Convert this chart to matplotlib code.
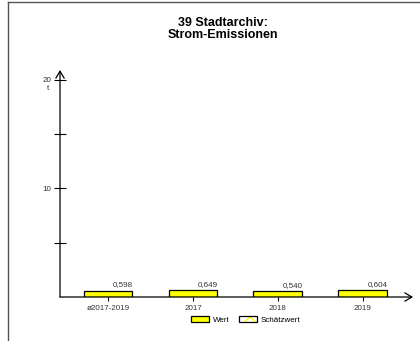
import matplotlib
matplotlib.use("Agg")
import matplotlib.pyplot as plt
from matplotlib.patches import Patch
from matplotlib.legend_handler import HandlerTuple
from matplotlib.lines import Line2D

plt.rcParams['font.family'] = ['Liberation Sans', 'DejaVu Sans']

categories = ["ø2017-2019", "2017", "2018", "2019"]
values = [0.598, 0.649, 0.540, 0.604]
value_labels = ["0,598", "0,649", "0,540", "0,604"]
y_ticks = [5, 10, 15, 20]
y_tick_labels = ["", "10", "", "20"]
title = "39 Stadtarchiv:\nStrom-Emissionen"
unit = "t"

YELLOW = "#ffff00"
FS = 5.8

fig = plt.figure(figsize=(4.2, 3.41), dpi=100)
ax = fig.add_axes([0.1429, 0.129, 0.8405, 0.6657])

x = list(range(len(categories)))
width = 0.576
ax.bar(x, values, width=width, color=YELLOW, edgecolor="black", linewidth=0.9)

for xi, v, lab in zip(x, values, value_labels):
    ax.annotate(lab, (xi + width / 2, v), xytext=(0, 1.5), textcoords="offset points",
                ha="right", va="bottom", fontsize=FS, color="#333333")

ax.set_xlim(-0.565, 3.59)
ax.set_ylim(0, 20.9)

for s in ax.spines.values():
    s.set_visible(False)

# axes with arrows
ax.annotate("", xy=(1, 0), xytext=(0, 0), xycoords="axes fraction",
            arrowprops=dict(arrowstyle="->,head_length=0.5,head_width=0.3", lw=0.9,
                            color="black", shrinkA=0, shrinkB=0))
ax.annotate("", xy=(0, 1), xytext=(0, 0), xycoords="axes fraction",
            arrowprops=dict(arrowstyle="->,head_length=0.5,head_width=0.3", lw=0.9,
                            color="black", shrinkA=0, shrinkB=0))

ax.set_yticks(y_ticks)
ax.set_yticklabels(y_tick_labels, fontsize=FS, color="#333333")
ax.tick_params(axis="y", direction="inout", length=8, width=0.8, pad=2)
# unit under the top tick label
ax.annotate(unit, (0, y_ticks[-1]), xycoords=("axes fraction", "data"),
            xytext=(-8, -6), textcoords="offset points", ha="right", va="center",
            fontsize=FS, color="#333333")

ax.set_xticks(x)
ax.set_xticklabels(categories, fontsize=FS, color="#333333")
ax.tick_params(axis="x", direction="out", length=3, width=0.8, pad=3)

fig.text(0.53, 0.915, title, ha="center", va="center", fontsize=9, fontweight="bold",
         linespacing=1.1)

wert = Patch(facecolor=YELLOW, edgecolor="black", linewidth=0.9)
sch_fill = Patch(facecolor="white", edgecolor=YELLOW, hatch="xx", linewidth=0)
sch_edge = Patch(facecolor="none", edgecolor="black", linewidth=0.9)
fig.legend([wert, (sch_fill, sch_edge)], ["Wert", "Schätzwert"],
           handler_map={tuple: HandlerTuple(ndivide=1, pad=0)},
           loc="center", bbox_to_anchor=(0.585, 0.062), ncol=2, frameon=False,
           fontsize=FS, handlelength=2.2, handleheight=0.8, columnspacing=1.2,
           handletextpad=0.5)

# frame lines (top and left)
fig.add_artist(Line2D([0.019, 1.0], [0.994, 0.994], color="#555555", lw=1.0))
fig.add_artist(Line2D([0.019, 0.019], [0.0, 0.994], color="#555555", lw=1.0))

fig.savefig("out.png", dpi=100)
